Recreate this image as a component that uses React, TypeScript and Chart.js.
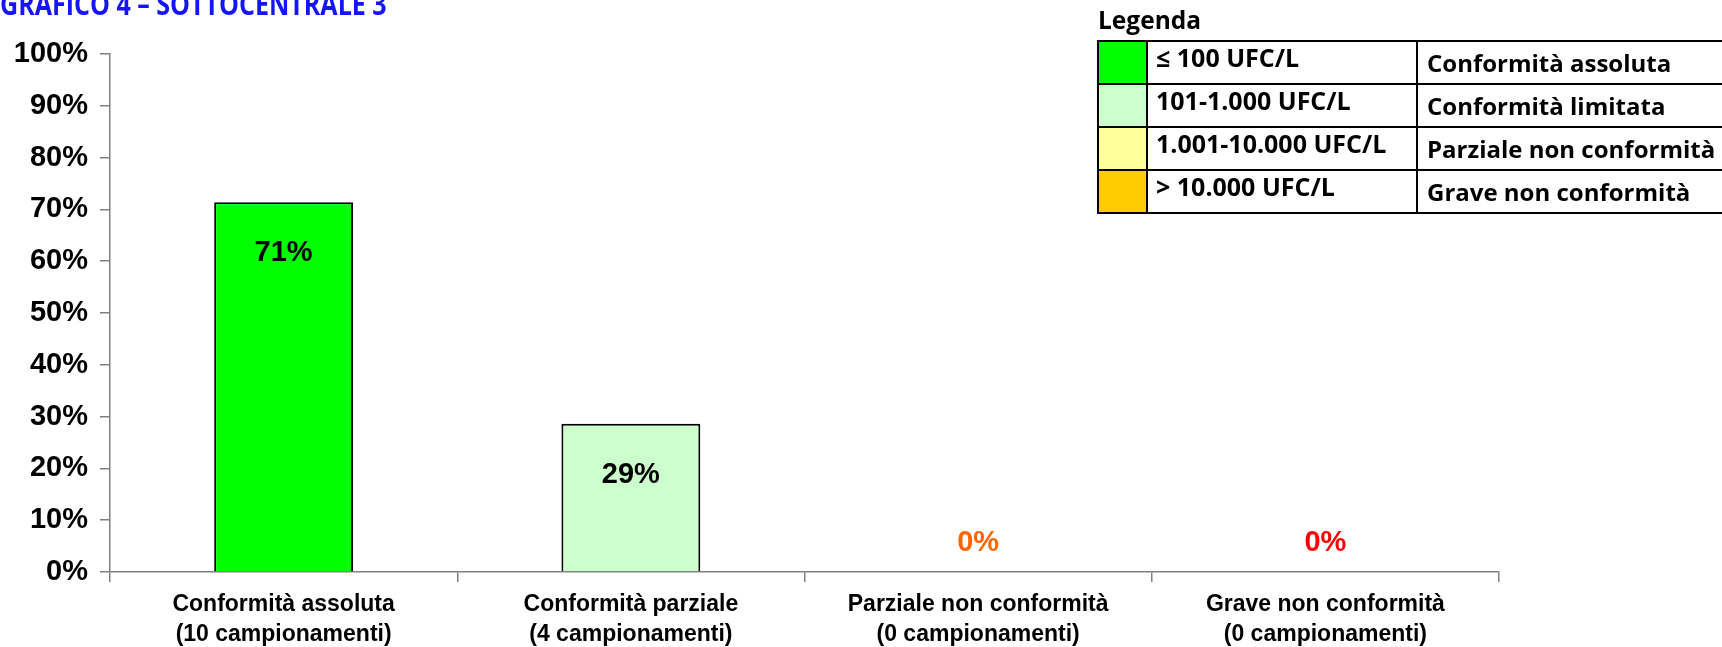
import React, { useEffect, useRef } from 'react';
import { Chart, registerables } from 'chart.js';

Chart.register(...registerables);

// ---- Data ----
const categories: string[][] = [
  ['Conformità assoluta', '(10 campionamenti)'],
  ['Conformità parziale', '(4 campionamenti)'],
  ['Parziale non conformità', '(0 campionamenti)'],
  ['Grave non conformità', '(0 campionamenti)'],
];
const percentValues: number[] = [71.4, 28.6, 0, 0];
const valueLabels: string[] = ['71%', '29%', '0%', '0%'];
const yMin = 0;
const yMax = 100;
const yStep = 10;

const barColors: string[] = ['#00FF00', '#CCFFCC', '#FFFF99', '#FFCC00'];
const labelColors: string[] = ['#000000', '#000000', '#FF6600', '#FF0000'];

const titleText = 'GRAFICO 4 – SOTTOCENTRALE 3';
const legendTitle = 'Legenda';
const legendRanges: string[] = ['≤ 100 UFC/L', '101-1.000 UFC/L', '1.001-10.000 UFC/L', '> 10.000 UFC/L'];
const legendMeanings: string[] = [
  'Conformità assoluta',
  'Conformità limitata',
  'Parziale non conformità',
  'Grave non conformità',
];

const ARIAL = '"Liberation Sans", Arial, sans-serif';
const CAL = '"Open Sans", "Noto Sans", sans-serif';

const valueLabelPlugin = {
  id: 'valueLabels',
  afterDatasetsDraw(chart: any) {
    const meta = chart.getDatasetMeta(0);
    const ctx = chart.ctx;
    const yScale = chart.scales.y;
    meta.data.forEach((bar: any, i: number) => {
      const v = percentValues[i];
      ctx.save();
      ctx.font = `bold 29px ${ARIAL}`;
      ctx.fillStyle = labelColors[i];
      ctx.textAlign = 'center';
      ctx.textBaseline = 'middle';
      const y = v > 0 ? bar.y + 51 : yScale.getPixelForValue(0) - 29;
      ctx.fillText(valueLabels[i], bar.x, y);
      ctx.restore();
    });
  },
};

export default function App() {
  const canvasRef = useRef<HTMLCanvasElement | null>(null);

  useEffect(() => {
    document.body.style.margin = '0';
    const canvas = canvasRef.current;
    if (!canvas) return;
    const chart = new Chart(canvas, {
      type: 'bar',
      data: {
        labels: categories as any,
        datasets: [
          {
            data: percentValues,
            backgroundColor: barColors,
            borderColor: '#000000',
            borderWidth: 2,
            barPercentage: 0.4,
            categoryPercentage: 1,
          },
        ],
      },
      options: {
        animation: false,
        responsive: false,
        maintainAspectRatio: false,
        layout: { padding: { left: 0, top: 54, right: 223, bottom: 0 } },
        plugins: {
          legend: { display: false },
          tooltip: { enabled: false },
          title: { display: false },
        },
        scales: {
          x: {
            grid: {
              display: true,
              drawOnChartArea: false,
              drawTicks: true,
              tickLength: 10,
              color: '#808080',
              lineWidth: 1.5,
              offset: true,
            },
            border: { display: true, color: '#808080', width: 1.5 },
            ticks: {
              color: '#000000',
              font: { family: ARIAL, size: 23, weight: 'bold', lineHeight: 1.3 },
              padding: 8,
              maxRotation: 0,
              minRotation: 0,
              autoSkip: false,
            },
            afterFit: (s: any) => {
              s.height = 75;
            },
          },
          y: {
            min: yMin,
            max: yMax,
            ticks: {
              stepSize: yStep,
              callback: (v: any) => v + '%',
              color: '#000000',
              font: { family: ARIAL, size: 29, weight: 'bold' },
              padding: 12,
            },
            grid: {
              display: true,
              drawOnChartArea: false,
              drawTicks: true,
              tickLength: 10,
              color: '#808080',
              lineWidth: 1.5,
            },
            border: { display: true, color: '#808080', width: 1.5 },
            afterFit: (s: any) => {
              s.width = 110;
            },
          },
        },
      } as any,
      plugins: [valueLabelPlugin],
    });
    return () => chart.destroy();
  }, []);

  const cellBase: React.CSSProperties = {
    border: '2px solid #000',
    padding: 0,
    height: 39,
    boxSizing: 'border-box',
    whiteSpace: 'nowrap',
    fontFamily: CAL,
    fontWeight: 700,
    color: '#000',
  };

  return (
    <div style={{ position: 'relative', width: 1722, height: 647, overflow: 'hidden', background: '#fff' }}>
      <canvas ref={canvasRef} width={1722} height={647} style={{ position: 'absolute', left: 0, top: 0 }} />
      <div
        style={{
          position: 'absolute',
          left: 0,
          top: -11,
          fontFamily: CAL,
          fontWeight: 700,
          fontSize: 30,
          lineHeight: '30px',
          color: '#1414FF',
          whiteSpace: 'nowrap',
          transform: 'scaleX(0.835)',
          transformOrigin: '0 0',
        }}
      >
        {titleText}
      </div>
      <div
        style={{
          position: 'absolute',
          left: 1098,
          top: 8,
          fontFamily: CAL,
          fontWeight: 700,
          fontSize: 24.5,
          lineHeight: '24.5px',
          color: '#000',
        }}
      >
        {legendTitle}
      </div>
      <table
        style={{
          position: 'absolute',
          left: 1097,
          top: 40,
          borderCollapse: 'collapse',
          tableLayout: 'fixed',
          width: 700,
        }}
      >
        <colgroup>
          <col style={{ width: 49 }} />
          <col style={{ width: 270 }} />
          <col style={{ width: 381 }} />
        </colgroup>
        <tbody>
          {legendRanges.map((r, i) => (
            <tr key={i} style={{ height: 43 }}>
              <td style={{ ...cellBase, background: barColors[i] }} />
              <td
                style={{
                  ...cellBase,
                  fontSize: 25,
                  lineHeight: '25px',
                  verticalAlign: 'top',
                  paddingTop: 3,
                  paddingLeft: 8,
                }}
              >
                {r}
              </td>
              <td
                style={{
                  ...cellBase,
                  fontSize: 24,
                  lineHeight: '24px',
                  verticalAlign: 'top',
                  paddingTop: 9,
                  paddingLeft: 9,
                }}
              >
                {legendMeanings[i]}
              </td>
            </tr>
          ))}
        </tbody>
      </table>
    </div>
  );
}
